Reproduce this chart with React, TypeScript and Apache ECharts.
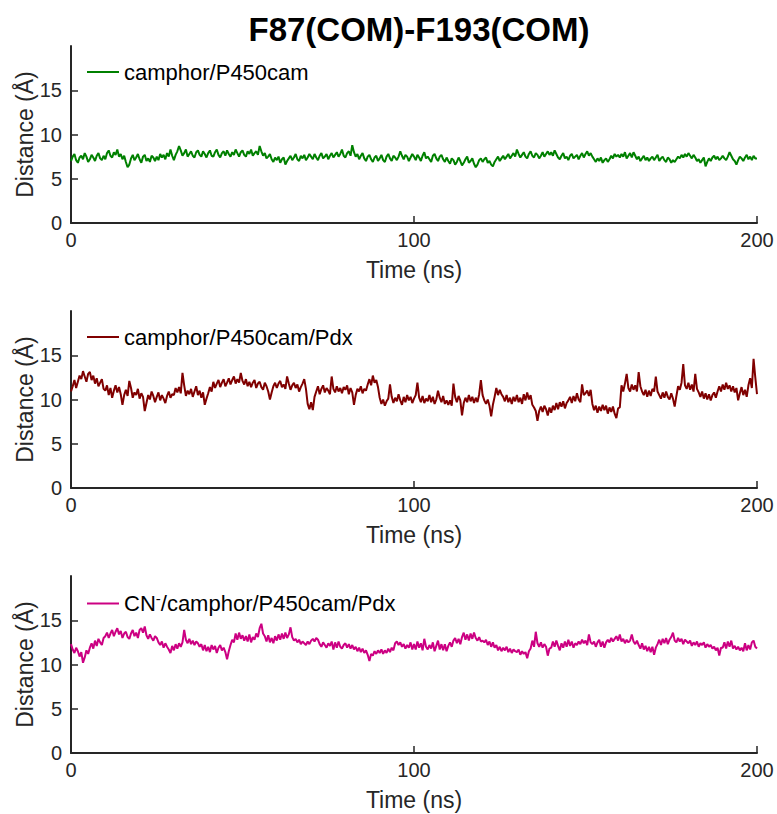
import React, { useEffect, useRef } from 'react';
import * as echarts from 'echarts';

const TITLE = 'F87(COM)-F193(COM)';
const SERIES_NAMES = ['camphor/P450cam', 'camphor/P450cam/Pdx', 'CN-/camphor/P450cam/Pdx'];
const SERIES_COLORS = ['#008000', '#800000', '#cc0082'];
const TIME_STEP_NS = 0.5;
const X_TICKS = [0, 100, 200];
const Y_TICKS = [0, 5, 10, 15];
const X_LABEL = 'Time (ns)';
const Y_LABEL = 'Distance (Å)';

const green = [
  7.0,7.5,7.8,7.1,6.8,7.4,7.6,7.2,7.9,7.5,6.9,7.2,7.7,7.4,7.0,7.6,7.9,7.3,7.1,7.6,
  7.2,7.9,8.2,7.6,7.4,8.0,7.7,8.3,7.5,7.8,7.2,7.6,6.9,6.3,6.6,7.3,7.7,7.1,7.4,7.8,
  7.2,6.8,7.5,7.7,7.0,7.3,6.9,7.6,7.4,7.0,7.5,7.1,7.8,7.4,7.7,7.2,7.9,7.5,8.3,7.6,
  7.1,7.7,8.1,8.7,8.2,7.6,7.9,8.3,7.5,7.8,8.1,7.6,7.4,8.0,8.2,7.7,7.5,8.1,7.8,7.4,
  7.9,8.2,7.6,7.5,8.0,8.3,7.7,7.4,7.9,8.1,7.6,8.2,7.8,7.5,8.0,7.7,8.3,7.9,7.5,8.0,
  8.2,7.7,7.5,8.1,7.8,8.3,7.6,7.9,8.1,7.7,8.7,8.1,7.6,7.9,7.3,7.5,7.8,7.2,6.9,7.4,
  7.1,7.5,6.8,7.2,7.4,6.6,7.0,7.3,7.6,7.1,7.4,7.8,7.2,7.0,7.6,7.3,7.7,7.1,7.4,7.8,
  7.5,7.2,7.8,7.4,7.1,7.6,7.9,7.3,7.5,7.8,7.2,7.6,7.9,7.4,7.7,8.0,7.5,7.8,8.3,7.6,
  7.4,7.9,8.1,7.6,8.8,8.0,7.5,7.8,7.2,7.6,7.9,7.3,7.0,7.5,7.7,7.2,6.9,7.4,7.6,7.0,
  7.3,7.7,7.1,6.9,7.5,7.8,7.3,7.0,7.6,7.4,7.1,7.5,8.1,7.6,7.2,7.7,7.5,7.0,7.4,7.8,
  7.5,7.1,7.7,7.4,7.0,7.6,8.0,7.3,7.5,7.2,6.9,7.6,7.8,7.3,7.0,7.5,7.7,7.2,6.9,7.4,
  7.0,6.7,7.3,7.1,6.6,6.9,7.4,7.0,6.5,6.8,7.2,7.5,6.8,7.0,7.3,6.7,6.3,6.6,7.1,7.3,
  6.9,7.2,7.4,6.8,7.0,6.6,6.4,6.9,7.2,7.5,7.0,7.3,7.6,7.2,7.5,7.8,7.3,7.6,7.9,7.5,
  8.3,7.8,7.4,7.7,8.0,7.5,7.3,7.8,8.1,7.6,7.4,7.9,7.7,7.3,7.6,8.0,7.5,7.8,8.1,7.7,
  8.0,7.6,8.2,7.8,7.4,7.2,7.6,7.9,7.3,7.5,7.1,7.6,7.8,7.3,7.5,7.7,7.2,7.6,7.9,7.4,
  7.8,8.1,7.6,7.9,7.5,7.2,6.9,7.3,7.0,7.4,6.8,7.1,7.3,6.9,7.2,7.6,7.3,7.8,7.5,7.7,
  7.4,7.8,7.5,8.0,7.3,7.6,7.9,7.4,8.0,7.6,7.2,7.5,7.0,7.3,7.6,7.1,7.4,7.0,7.3,7.5,
  7.1,7.4,7.7,7.0,7.3,7.5,7.1,6.9,7.4,7.2,6.8,7.1,6.9,7.2,7.5,7.3,7.7,7.4,7.8,7.5,
  7.9,7.6,7.3,7.7,7.4,7.0,7.2,6.8,7.1,7.4,6.4,6.9,7.3,7.0,7.4,7.6,7.2,7.5,7.1,7.3,
  7.6,7.3,7.1,7.5,8.0,7.6,7.2,7.0,6.6,7.1,7.5,7.3,7.0,7.4,7.7,7.2,7.5,7.1,7.6,7.3,
  7.3,
];

const maroon = [
  10.9,11.5,12.2,11.3,12.0,12.7,12.3,13.2,12.6,12.0,12.9,13.1,12.2,12.7,11.8,12.4,11.5,11.9,12.3,11.2,
  11.0,11.6,10.5,11.3,10.2,11.0,11.6,10.8,11.4,10.6,9.4,10.5,11.1,10.4,12.1,11.3,10.2,10.8,10.5,11.2,
  10.1,10.7,10.3,8.7,9.6,10.5,10.0,10.9,10.4,9.7,10.3,10.8,9.9,10.5,10.1,9.6,10.4,10.9,10.2,10.6,
  10.5,11.3,10.8,11.4,10.7,13.0,11.6,10.4,11.0,10.6,11.2,10.3,10.9,11.5,10.5,11.0,10.2,10.8,9.4,10.1,
  10.7,11.4,10.9,12.0,11.3,11.8,12.2,11.4,11.9,12.3,11.5,11.9,12.4,11.7,12.2,12.6,11.8,12.3,11.9,13.0,
  12.1,11.7,12.3,11.5,12.0,11.4,11.9,12.2,11.3,11.8,12.0,11.4,11.1,11.9,11.5,10.9,10.0,10.8,11.5,11.9,
  11.3,11.8,12.1,11.4,11.7,11.2,12.6,11.8,11.1,11.6,11.9,11.3,11.7,10.9,11.4,11.8,12.3,11.2,9.5,8.9,
  9.7,8.8,10.3,10.9,11.5,10.6,11.2,11.6,10.8,11.3,11.0,10.6,12.6,11.2,10.8,11.5,10.9,11.3,10.7,11.4,
  11.1,11.6,10.6,11.3,10.8,9.4,10.5,11.2,10.9,11.5,10.7,11.2,11.0,11.7,12.3,11.6,12.7,11.9,12.2,11.4,
  10.2,9.5,10.0,9.3,9.8,10.1,11.7,10.3,9.6,10.2,9.8,10.6,9.9,9.4,10.3,9.7,10.5,9.9,10.3,9.6,
  10.1,10.5,11.9,10.2,9.7,10.4,9.6,10.1,9.8,10.5,9.7,10.3,9.5,10.0,11.0,10.2,9.7,10.4,9.5,9.9,
  9.4,9.9,9.3,11.8,10.3,9.7,10.4,9.9,8.2,9.6,10.2,9.7,10.5,9.8,10.3,9.6,10.2,9.7,10.6,12.2,
  10.5,9.9,9.5,10.0,9.3,8.1,9.4,10.3,11.3,10.5,11.1,10.6,10.3,9.8,10.5,9.7,10.2,9.5,10.3,9.8,
  10.5,9.7,10.2,9.5,10.6,9.9,10.8,10.0,10.5,9.4,9.1,8.7,7.6,8.7,9.2,8.6,9.3,8.9,8.2,9.1,
  8.5,9.3,8.8,9.6,8.9,9.7,9.2,9.8,9.0,9.6,9.9,10.3,9.6,10.4,9.8,10.7,10.0,9.7,11.7,10.5,
  10.7,11.0,10.4,11.1,9.5,8.8,9.3,8.5,9.2,8.7,9.4,8.8,9.3,8.4,9.1,8.6,9.2,8.4,7.9,9.0,
  9.1,11.6,10.9,11.8,12.9,11.3,10.9,11.7,11.1,11.6,10.9,13.1,11.5,10.9,10.5,11.1,10.3,11.0,10.4,11.2,
  10.9,12.6,10.9,10.5,10.1,10.8,10.2,10.9,10.3,10.0,10.7,10.1,9.2,10.4,11.5,11.1,11.9,14.0,11.6,11.2,
  11.9,11.1,11.7,10.9,12.9,11.2,10.8,10.3,10.9,10.1,10.7,10.0,10.6,9.9,10.5,10.8,10.2,10.9,11.5,10.9,
  11.7,11.1,11.9,11.2,11.6,10.9,11.5,10.8,11.3,9.9,10.7,11.4,10.5,11.1,10.3,11.6,12.4,11.3,14.6,12.5,
  10.6,
];

const magenta = [
  12.3,11.7,11.3,11.9,11.5,10.9,11.4,10.2,10.8,11.6,11.2,11.9,12.4,11.8,12.7,12.1,12.9,12.5,12.2,13.0,
  13.2,13.6,13.0,13.5,13.9,13.2,13.7,14.1,13.4,13.8,13.0,13.5,13.7,13.1,12.9,13.5,13.9,13.2,13.6,13.0,
  13.9,14.1,13.6,14.3,13.3,12.9,13.4,13.0,12.7,13.2,13.0,12.5,12.2,12.6,11.9,12.4,12.0,11.7,11.3,12.1,
  11.6,12.3,11.8,12.4,12.0,12.5,13.9,12.8,12.4,12.9,12.3,12.7,12.2,12.6,12.4,12.0,12.3,11.6,12.2,11.5,
  12.0,11.4,12.2,11.7,12.1,11.3,11.9,12.2,11.6,11.9,11.4,10.6,11.5,12.2,12.8,12.5,13.5,12.8,13.6,12.9,
  13.3,12.7,13.2,12.6,13.4,12.5,13.1,12.8,13.5,13.1,14.1,14.6,13.5,13.2,12.6,13.3,12.5,13.0,12.4,13.2,
  12.7,13.4,12.8,13.5,12.9,13.6,13.0,13.4,14.2,13.1,12.7,12.9,12.5,12.8,12.3,12.6,12.4,12.2,12.6,12.3,
  12.7,12.9,12.6,13.0,12.8,12.3,12.0,12.5,12.2,11.9,12.4,12.1,12.6,11.7,12.5,11.9,12.6,12.0,11.8,12.2,
  12.4,11.9,12.3,11.8,12.2,11.7,12.0,11.5,11.9,11.4,11.8,11.3,11.6,11.1,10.4,11.2,11.0,11.5,11.2,11.6,
  11.3,11.7,11.2,11.6,11.3,11.8,11.4,11.9,11.6,12.4,12.6,12.2,12.5,12.0,12.3,11.8,12.2,11.9,12.5,11.7,
  12.3,11.7,12.6,11.9,12.4,11.6,12.9,12.0,11.7,12.2,11.8,12.5,11.5,12.1,12.7,11.7,12.3,11.6,12.3,11.5,
  12.1,12.5,12.0,12.7,13.0,12.4,12.9,12.3,13.1,13.6,12.8,13.4,12.7,13.5,12.9,13.6,13.0,12.7,13.1,12.6,
  12.7,12.5,12.8,12.2,12.6,12.0,12.5,11.9,12.2,11.6,12.0,11.5,11.9,11.6,12.0,11.4,11.8,11.3,11.7,11.5,
  11.4,11.7,11.1,11.5,11.2,11.4,10.7,11.5,11.8,12.7,12.0,13.7,12.4,12.0,12.5,11.9,12.3,12.0,11.0,11.8,
  11.9,12.6,12.0,12.7,12.1,11.6,12.4,11.9,12.6,12.0,12.8,12.1,12.6,11.9,12.4,12.2,12.6,12.3,12.8,12.4,
  12.7,12.2,13.4,12.5,12.3,12.6,12.0,12.5,12.8,12.0,12.6,11.9,12.5,12.8,12.5,13.0,12.6,12.9,13.2,12.7,
  13.4,12.6,12.9,12.4,12.8,12.5,12.7,13.4,12.6,12.3,12.7,12.2,11.8,12.4,11.7,12.1,11.5,12.0,11.4,12.0,
  11.1,11.9,12.3,12.8,12.2,12.9,12.4,13.0,12.3,12.8,13.1,13.6,12.7,12.5,13.0,12.6,12.9,12.3,12.8,12.6,
  12.4,12.7,12.1,12.5,12.2,12.6,12.0,12.4,12.2,12.5,11.9,12.3,12.0,12.2,11.8,12.0,11.6,11.9,11.0,11.9,
  11.9,12.5,11.8,12.6,12.0,12.7,11.8,12.1,11.7,12.0,11.6,11.9,11.5,12.4,11.6,12.2,11.7,12.5,12.7,12.0,
  11.8,
];

const SERIES_VALUES = [green, maroon, magenta];

const FONT = '"Liberation Sans", Arial, Helvetica, sans-serif';
const AXIS_COLOR = '#262626';
const GRID_TOPS = [46, 311, 576];
const GRID_HEIGHT = 177;
const GRID_LEFT = 71;
const GRID_WIDTH = 686;

export default function App() {
  const ref = useRef<HTMLDivElement>(null);
  useEffect(() => {
    if (!ref.current) return;
    const chart = echarts.init(ref.current, undefined, { renderer: 'svg' });
    const grids = GRID_TOPS.map((top) => ({ left: GRID_LEFT, top, width: GRID_WIDTH, height: GRID_HEIGHT }));
    const xAxes = GRID_TOPS.map((_, i) => ({
      type: 'value',
      gridIndex: i,
      min: X_TICKS[0],
      max: X_TICKS[X_TICKS.length - 1],
      interval: X_TICKS[1] - X_TICKS[0],
      name: X_LABEL,
      nameLocation: 'middle',
      nameGap: 35,
      nameTextStyle: { fontFamily: FONT, fontSize: 23, color: AXIS_COLOR },
      axisLine: { show: true, lineStyle: { color: AXIS_COLOR, width: 2 } },
      axisTick: { show: true, inside: true, length: 7, lineStyle: { color: AXIS_COLOR, width: 1.5 } },
      axisLabel: { fontFamily: FONT, fontSize: 20, color: AXIS_COLOR, margin: 7 },
      splitLine: { show: false },
    }));
    const yAxes = GRID_TOPS.map((_, i) => ({
      type: 'value',
      gridIndex: i,
      min: 0,
      max: 20,
      interval: 5,
      name: Y_LABEL,
      nameLocation: 'middle',
      nameGap: 35,
      nameMoveOverlap: false,
      nameTextStyle: { fontFamily: FONT, fontSize: 23, color: AXIS_COLOR },
      axisLine: { show: true, lineStyle: { color: AXIS_COLOR, width: 2 } },
      axisTick: { show: true, inside: true, length: 7, customValues: Y_TICKS, lineStyle: { color: AXIS_COLOR, width: 1.5 } },
      axisLabel: { fontFamily: FONT, fontSize: 20, color: AXIS_COLOR, margin: 9, customValues: Y_TICKS },
      splitLine: { show: false },
    }));
    const series = SERIES_VALUES.map((vals, i) => ({
      type: 'line',
      name: SERIES_NAMES[i],
      xAxisIndex: i,
      yAxisIndex: i,
      data: vals.map((v, k) => [k * TIME_STEP_NS, v]),
      showSymbol: false,
      symbol: 'none',
      lineStyle: { color: SERIES_COLORS[i], width: 2 },
      itemStyle: { color: SERIES_COLORS[i] },
    }));
    const legends = GRID_TOPS.map((top, i) => ({
      data: [SERIES_NAMES[i]],
      left: 87,
      top: top + 15,
      icon: 'rect',
      itemWidth: 32,
      itemHeight: 2,
      padding: 0,
      textStyle: {
        fontFamily: FONT,
        fontSize: 22,
        color: '#000',
        rich: {
          a: { fontFamily: FONT, fontSize: 22, color: '#000' },
          sup: { fontFamily: FONT, fontSize: 15, color: '#000', padding: [0, 0, 10, 0] },
        },
      },
      formatter: (name: string) =>
        name.startsWith('CN-') ? '{a|CN}{sup|-}{a|' + name.slice(3) + '}' : name,
    }));
    chart.setOption({
      animation: false,
      backgroundColor: '#fff',
      title: {
        text: TITLE,
        left: GRID_LEFT + GRID_WIDTH / 2,
        textAlign: 'center',
        top: 8,
        textStyle: { fontFamily: FONT, fontSize: 33, fontWeight: 'bold', color: '#000' },
      },
      legend: legends,
      grid: grids,
      xAxis: xAxes,
      yAxis: yAxes,
      series,
    });
    return () => chart.dispose();
  }, []);
  return <div ref={ref} style={{ position: 'fixed', left: 0, top: 0, width: 777, height: 814 }} />;
}
